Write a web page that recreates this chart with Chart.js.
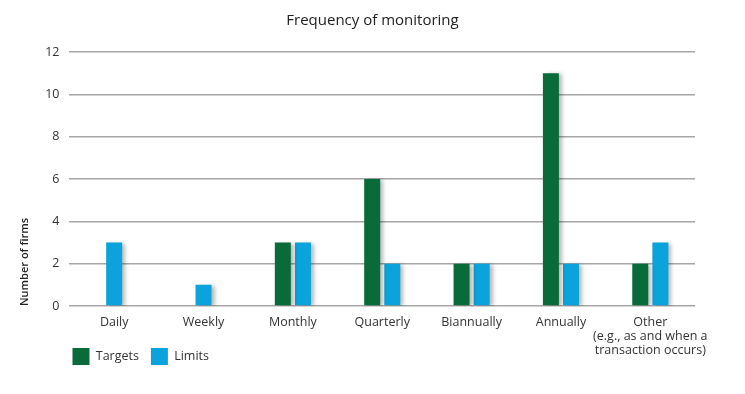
<!DOCTYPE html>
<html>
<head>
<meta charset="utf-8">
<script src="https://cdn.jsdelivr.net/npm/chart.js@4.4.1/dist/chart.umd.min.js"></script>
<style>
  html, body { margin: 0; padding: 0; background: #fff; }
  #wrap { width: 745px; height: 394px; }
</style>
</head>
<body>
<div id="wrap"><canvas id="chart"></canvas></div>
<script>
// categories and values (null = no bar drawn)
const categories = [
    'Daily', 'Weekly', 'Monthly', 'Quarterly', 'Biannually', 'Annually',
    ['Other', '(e.g., as and when a', 'transaction occurs)']
];
const targets = [null, null, 3, 6, 2, 11, 2];
const limits = [3, 1, 3, 2, 2, 2, 3];
const yTicks = [0, 2, 4, 6, 8, 10, 12];

const green = '#0a6b3a';
const blue = '#0ba3dc';
const font = '"Open Sans", Lato, sans-serif';

// soft shadow to the right of the bars
const barShadow = {
    id: 'barShadow',
    beforeDatasetsDraw(chart) {
        const ctx = chart.ctx;
        ctx.save();
        ctx.shadowColor = 'rgba(0,0,0,0.28)';
        ctx.shadowOffsetX = 3;
        ctx.shadowOffsetY = 1;
        ctx.shadowBlur = 4;
    },
    afterDatasetsDraw(chart) {
        chart.ctx.restore();
    }
};

// title centred on the page, legend pulled up beside the "Other" label
const placeBoxes = {
    id: 'placeBoxes',
    afterLayout(chart) {
        const t = chart.titleBlock;
        t.left = 0;
        t.right = chart.width;
        const lg = chart.legend;
        lg.top -= 22;
        lg.bottom -= 22;
        lg.left -= 9;
        lg.right -= 9;
    }
};

new Chart(document.getElementById('chart'), {
    type: 'bar',
    data: {
        labels: categories,
        datasets: [
            { label: 'Targets', data: targets, backgroundColor: green },
            { label: 'Limits', data: limits, backgroundColor: blue }
        ]
    },
    options: {
        responsive: true,
        maintainAspectRatio: false,
        animation: false,
        layout: { padding: { left: 10, right: 50, top: 8, bottom: -3 } },
        datasets: {
            bar: {
                categoryPercentage: 0.45,
                barPercentage: 0.8,
                maxBarThickness: 16,
                skipNull: true
            }
        },
        plugins: {
            title: {
                display: true,
                text: 'Frequency of monitoring',
                color: '#222',
                font: { family: font, size: 15, weight: 'normal' },
                padding: { top: 4, bottom: 22 }
            },
            legend: {
                position: 'bottom',
                align: 'start',
                fullSize: false,
                labels: {
                    color: '#333',
                    font: { family: font, size: 12.5 },
                    boxWidth: 17,
                    boxHeight: 17,
                    padding: 12
                }
            },
            tooltip: { enabled: false }
        },
        scales: {
            x: {
                grid: { display: false },
                border: { display: false },
                ticks: {
                    color: '#333',
                    autoSkip: false,
                    maxRotation: 0,
                    font: { family: font, size: 12.5, lineHeight: 1.12 },
                    padding: 1
                }
            },
            y: {
                min: 0,
                max: 12,
                afterBuildTicks(axis) {
                    axis.ticks = yTicks.map(v => ({ value: v }));
                },
                grid: { color: '#a6a6a6', lineWidth: 1.5, drawTicks: false },
                border: { display: false },
                ticks: {
                    color: '#333',
                    font: { family: font, size: 12.5 },
                    padding: 10
                },
                title: {
                    display: true,
                    text: 'Number of firms',
                    align: 'start',
                    color: '#222',
                    font: { family: font, size: 11, weight: '600' },
                    padding: { top: 8, bottom: 4 }
                }
            }
        }
    },
    plugins: [barShadow, placeBoxes]
});
</script>
</body>
</html>
